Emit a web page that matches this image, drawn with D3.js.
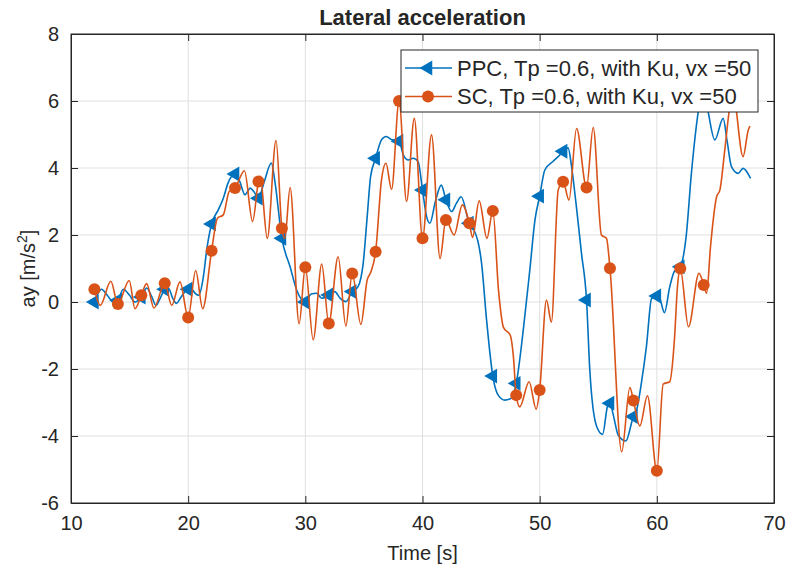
<!DOCTYPE html>
<meta charset="utf-8">
<title>Lateral acceleration</title>
<style>
body { margin: 0; background: #fff; }
text { font-family: "Liberation Sans", Arial, sans-serif; fill: #262626; }
</style>

<script src="https://d3js.org/d3.v7.min.js"></script>

<div id="my_dataviz"></div>

<script>

// values: time [s] and lateral acceleration [m/s^2]
var ppcTime = [12.0, 12.3, 12.6, 13.1, 13.6, 14.0, 14.46, 15.0, 15.46, 16.0, 16.46, 16.9, 17.25, 17.6, 18.0, 18.3, 18.7, 19.0, 19.4, 20.0,
  20.3, 20.6, 20.9, 21.3, 21.6, 22.0, 22.57, 23.0, 23.4, 24.0, 24.4, 24.85, 25.3, 25.6, 26.0, 26.5, 27.1, 27.4, 28.0, 28.7,
  29.26, 30.0, 30.5, 30.96, 31.4, 32.0, 32.5, 33.0, 33.46, 34.0, 34.5, 34.94, 35.28, 35.57, 36.0, 36.5, 36.9, 37.4, 38.0, 38.36,
  38.78, 39.2, 39.63, 40.0, 40.35, 40.63, 41.1, 41.6, 42.0, 42.48, 42.9, 43.3, 44.0, 44.33, 45.04, 45.47, 46.0, 46.46, 47.03, 47.6,
  48.0, 48.6, 49.16, 49.6, 50.0, 50.44, 51.15, 51.72, 52.0, 52.43, 52.7, 53.1, 53.57, 54.0, 54.28, 54.85, 55.37, 55.8, 56.0, 56.3,
  56.7, 57.35, 58.0, 58.26, 58.69, 59.12, 59.55, 60.0, 60.2, 60.65, 61.1, 61.5, 62.0, 62.5, 62.95, 63.4, 63.67, 64.0, 64.38, 64.95,
  65.66, 66.0, 66.37, 66.94, 67.36, 68.0];
var ppcAy = [0.0, 0.25, 0.38, 0.2, 0.0, 0.05, 0.38, 0.2, 0.0, 0.15, 0.42, 0.15, -0.1, 0.1, 0.38, 0.42, 0.1, -0.04, 0.15, 0.38,
  0.38, 0.26, 0.2, 0.76, 1.6, 2.33, 2.75, 3.1, 3.55, 3.82, 3.6, 3.2, 3.4, 3.3, 3.1, 3.6, 4.15, 3.6, 1.9, 1.05,
  0.36, 0.0, 0.24, 0.26, 0.11, 0.21, 0.31, 0.1, 0.01, 0.31, 0.46, 1.16, 2.55, 3.74, 4.29, 4.84, 4.94, 4.84, 4.8, 4.39,
  4.24, 4.29, 4.19, 3.34, 2.55, 2.35, 3.0, 3.49, 3.05, 2.7, 2.95, 3.14, 2.35, 2.2, 1.16, -0.54, -2.21, -2.78, -2.93, -2.87,
  -2.43, -0.84, 0.96, 2.45, 3.16, 3.94, 4.2, 4.39, 4.5, 4.6, 4.1, 2.95, 1.45, 0.06, -2.03, -3.7, -3.95, -3.1, -3.02, -3.4,
  -3.97, -4.15, -3.42, -3.25, -2.4, -1.3, 0.1, 0.18, 0.15, -0.32, 0.45, 0.92, 1.05, 1.95, 3.84, 5.33, 5.98, 6.4, 5.68, 4.84,
  5.48, 4.8, 4.04, 3.84, 3.99, 3.69];

var scTime = [12.0, 12.5, 13.4, 14.0, 14.97, 15.46, 16.0, 16.46, 17.08, 18.0, 18.6, 19.3, 20.0, 20.64, 21.24, 22.0, 22.5, 23.0, 23.5, 24.0,
  24.8, 25.5, 26.0, 26.15, 26.75, 27.5, 28.0, 28.25, 28.7, 29.47, 30.0, 30.67, 31.4, 32.0, 32.8, 33.46, 34.0, 34.74, 35.28, 35.6,
  36.0, 36.5, 36.88, 37.36, 38.0, 38.64, 39.3, 40.0, 40.77, 41.5, 42.0, 42.7, 43.4, 44.0, 44.27, 44.84, 45.5, 46.0, 46.5, 46.9,
  47.5, 47.75, 48.0, 48.3, 49.1, 49.7, 50.0, 50.58, 51.0, 51.58, 52.0, 52.5, 53.15, 54.0, 54.57, 55.27, 55.7, 56.0, 57.0, 57.7,
  58.0, 58.55, 59.2, 60.0, 60.54, 61.1, 61.5, 61.77, 62.0, 62.7, 63.6, 64.0, 64.25, 64.58, 65.1, 65.38, 65.8, 66.23, 66.6, 66.8,
  67.36, 67.8, 67.95];
var scAy = [0.38, -0.1, 0.62, -0.06, 0.64, -0.2, 0.2, 0.55, -0.18, 0.56, -0.1, 0.6, -0.46, 0.94, -0.2, 1.53, 2.5, 2.6, 3.3, 3.4,
  3.92, 2.4, 3.6, 3.75, 1.9, 4.82, 2.2, 1.9, 3.42, -0.65, 1.04, -1.13, 1.13, -0.64, 1.35, -0.72, 0.85, -0.67, 0.66, 0.9,
  1.5, 3.64, 4.14, 3.36, 6.0, 3.0, 5.48, 1.9, 4.99, 1.3, 2.45, 2.0, 2.9, 2.35, 1.93, 3.02, 1.9, 2.72, 0.3, -0.75,
  -1.0, -1.6, -2.78, -3.13, -2.38, -3.2, -2.63, 0.06, -0.6, 3.34, 3.59, 3.04, 5.18, 3.42, 5.21, 2.0, 1.9, 1.01, -4.47, -2.55,
  -2.94, -3.7, -2.8, -5.04, -2.45, -2.38, -1.13, 0.5, 1.0, -0.74, 0.86, 0.51, 0.26, 1.65, 3.14, 3.34, 4.54, 5.83, 6.3, 5.68,
  4.34, 5.13, 5.25];

// markers sit on these samples
var markerTimes = [12, 14, 16, 18, 20, 22, 24, 26, 28, 30, 32, 34, 36, 38, 40, 42, 44, 46, 48, 50, 52, 54, 56, 58, 60, 62, 64];

var xTicks = [10, 20, 30, 40, 50, 60, 70];
var yTicks = [-6, -4, -2, 0, 2, 4, 6, 8];
var legendLabels = ["PPC, Tp =0.6, with Ku, vx =50", "SC, Tp =0.6, with Ku, vx =50"];

var blue = "#0072bd", orange = "#d95319";

// figure size and axes box
var W = 789, H = 569;
var margin = {top: 34, right: 15, bottom: 66, left: 71};

var svg = d3.select("#my_dataviz")
  .append("svg")
  .attr("width", W)
  .attr("height", H);

svg.append("rect").attr("width", W).attr("height", H).attr("fill", "#fff");

var x = d3.scaleLinear().domain([10, 70]).range([margin.left, W - margin.right]);
var y = d3.scaleLinear().domain([-6, 8]).range([H - margin.bottom, margin.top]);

var x0 = x.range()[0], x1 = x.range()[1], y0 = y.range()[0], y1 = y.range()[1];

// grid
svg.append("g").selectAll("line")
  .data(xTicks.slice(1, -1)).enter().append("line")
  .attr("x1", d => x(d)).attr("x2", d => x(d))
  .attr("y1", y1).attr("y2", y0)
  .attr("stroke", "#dfdfdf");
svg.append("g").selectAll("line")
  .data(yTicks.slice(1, -1)).enter().append("line")
  .attr("x1", x0).attr("x2", x1)
  .attr("y1", d => y(d)).attr("y2", d => y(d))
  .attr("stroke", "#dfdfdf");

// axes, ticks pointing inwards like matlab; plain hyphen for negatives
var tickLen = 7;
var fmt = d => String(d);
svg.append("g")
  .attr("transform", "translate(0," + y0 + ")")
  .call(d3.axisBottom(x).tickValues(xTicks).tickFormat(fmt).tickSizeInner(-tickLen).tickSizeOuter(0).tickPadding(12))
  .call(g => g.selectAll("text").attr("font-size", 20).attr("dy", "0.75em"));
svg.append("g")
  .attr("transform", "translate(0," + y1 + ")")
  .call(d3.axisTop(x).tickValues(xTicks).tickSizeInner(-tickLen).tickSizeOuter(0).tickFormat(""));
svg.append("g")
  .attr("transform", "translate(" + x0 + ",0)")
  .call(d3.axisLeft(y).tickValues(yTicks).tickFormat(fmt).tickSizeInner(-tickLen).tickSizeOuter(0).tickPadding(12))
  .call(g => g.selectAll("text").attr("font-size", 20));
svg.append("g")
  .attr("transform", "translate(" + x1 + ",0)")
  .call(d3.axisRight(y).tickValues(yTicks).tickSizeInner(-tickLen).tickSizeOuter(0).tickFormat(""));

svg.selectAll(".domain").attr("stroke", "#262626");
svg.selectAll(".tick line").attr("stroke", "#262626");
svg.selectAll(".tick text").attr("fill", "#262626").attr("font-family", "Liberation Sans, Arial, sans-serif");

// box
svg.append("rect")
  .attr("x", x0).attr("y", y1)
  .attr("width", x1 - x0).attr("height", y0 - y1)
  .attr("fill", "none").attr("stroke", "#262626");

// lines
var line = d3.line()
  .x(d => x(d.t))
  .y(d => y(d.a))
  .curve(d3.curveMonotoneX);

var ppc = ppcTime.map((t, i) => ({t: t, a: ppcAy[i]}));
var sc = scTime.map((t, i) => ({t: t, a: scAy[i]}));

var tri = d3.symbol().type(d3.symbolTriangle).size(95);

function drawSeries(data, color, kind) {
  svg.append("path")
    .datum(data)
    .attr("d", line)
    .attr("fill", "none")
    .attr("stroke", color)
    .attr("stroke-width", 1.6);
  var pts = data.filter(d => markerTimes.indexOf(d.t) >= 0);
  if (kind == "tri") {
    svg.append("g").selectAll("path")
      .data(pts).enter().append("path")
      .attr("d", tri)
      .attr("transform", d => "translate(" + x(d.t) + "," + y(d.a) + ") rotate(-90)")
      .attr("fill", color);
  } else {
    svg.append("g").selectAll("circle")
      .data(pts).enter().append("circle")
      .attr("cx", d => x(d.t)).attr("cy", d => y(d.a))
      .attr("r", 6)
      .attr("fill", color);
  }
}

drawSeries(ppc, blue, "tri");
drawSeries(sc, orange, "circ");

// title and labels
svg.append("text")
  .attr("x", (x0 + x1) / 2).attr("y", 25)
  .attr("text-anchor", "middle")
  .attr("font-size", 22).attr("font-weight", "bold")
  .text("Lateral acceleration");

svg.append("text")
  .attr("x", (x0 + x1) / 2).attr("y", 560)
  .attr("text-anchor", "middle")
  .attr("font-size", 20)
  .text("Time [s]");

var yl = svg.append("text")
  .attr("transform", "translate(35," + ((y0 + y1) / 2) + ") rotate(-90)")
  .attr("text-anchor", "middle")
  .attr("font-size", 20);
yl.append("tspan").text("ay [m/s");
yl.append("tspan").attr("font-size", 14).attr("dy", -8).text("2");
yl.append("tspan").attr("dy", 8).text("]");

// legend
var lg = svg.append("g").attr("transform", "translate(401,50)");
lg.append("rect")
  .attr("width", 357).attr("height", 62)
  .attr("fill", "#fff").attr("stroke", "#262626");

legendLabels.forEach(function(label, i) {
  var cy = 18 + i * 28.5;
  var color = i == 0 ? blue : orange;
  lg.append("line")
    .attr("x1", 4).attr("x2", 51).attr("y1", cy).attr("y2", cy)
    .attr("stroke", color).attr("stroke-width", 1.6);
  if (i == 0) {
    lg.append("path").attr("d", tri)
      .attr("transform", "translate(27," + cy + ") rotate(-90)")
      .attr("fill", color);
  } else {
    lg.append("circle").attr("cx", 27).attr("cy", cy).attr("r", 6).attr("fill", color);
  }
  lg.append("text")
    .attr("x", 56).attr("y", cy).attr("dy", "0.35em")
    .attr("font-size", 22)
    .text(label);
});

</script>
